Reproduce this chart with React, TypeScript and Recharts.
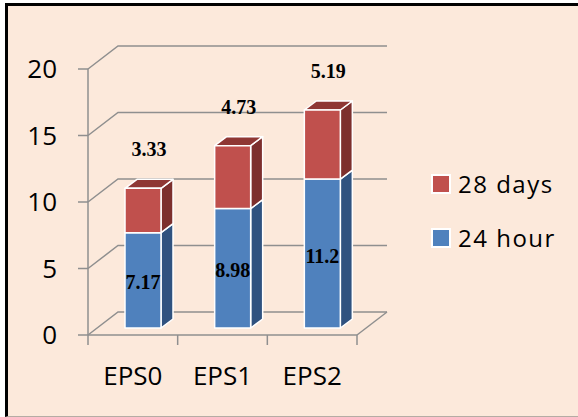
import React from "react"
import { BarChart, Bar, XAxis, YAxis, CartesianGrid, Legend, LabelList } from "recharts"

const categories = ["EPS0", "EPS1", "EPS2"]
const hour24 = [7.17, 8.98, 11.2]
const days28 = [3.33, 4.73, 5.19]
const yTicks = [0, 5, 10, 15, 20]

const data = categories.map((name, i) => ({ name, h24: hour24[i], d28: days28[i] }))

const GRID = "#8f8f8f"
const CREAM = "#fce9db"
const AXIS_FONT = "'Open Sans', 'Noto Sans', sans-serif"
const LABEL_FONT = "'Liberation Serif', 'DejaVu Serif', serif"

const X_TICK_SIZE = 10
const X_TICK_MARGIN = 22

// back wall / floor depth
const WALL_DX = 30
const WALL_DY = 23
// bars sit part way into the floor, with their own depth
const BAR_OX = 10
const BAR_OY = -7
const BAR_DX = 12
const BAR_DY = 9

const blue = { front: "#4f81bd", side: "#30527f", top: "#3b6296" }
const red = { front: "#c0504d", side: "#7d2f2d", top: "#8f3734" }

function wallLine(p: any) {
  const { x1, y1, x2, index } = p
  const bx = x1 + WALL_DX
  const by = y1 - WALL_DY
  return (
    <g key={`wall-${index}`}>
      <polyline
        points={`${x1},${y1} ${bx},${by} ${x2 + WALL_DX},${by}`}
        fill="none"
        stroke={GRID}
        strokeWidth={1.5}
      />
      {index === 0 && (
        <line x1={x2} y1={y1} x2={x2 + WALL_DX} y2={by} stroke={GRID} strokeWidth={1.5} />
      )}
    </g>
  )
}

// category label plus tick marks on the band edges (not the band centre)
function categoryTick(p: any) {
  const { x, y, payload, index, visibleTicksCount } = p
  const half = payload?.offset ?? 0
  const y0 = y - X_TICK_MARGIN - X_TICK_SIZE
  const y1 = y - X_TICK_MARGIN
  const last = index === visibleTicksCount - 1
  return (
    <g>
      <line x1={x - half} y1={y0} x2={x - half} y2={y1} stroke={GRID} strokeWidth={1.5} />
      {last && <line x1={x + half} y1={y0} x2={x + half} y2={y1} stroke={GRID} strokeWidth={1.5} />}
      <text x={x} y={y} dy="0.71em" textAnchor="middle" fill="#000" fontSize={26} fontFamily={AXIS_FONT}>
        {payload.value}
      </text>
    </g>
  )
}

function makeBox(c: { front: string; side: string; top: string }, withTop: boolean) {
  return (props: any) => {
    const { x, y, width, height } = props
    if (width == null || height == null) return <g />
    const x0 = x + BAR_OX
    const y0 = y + BAR_OY
    const w = width
    const h = height
    const side = `${x0 + w},${y0} ${x0 + w + BAR_DX},${y0 - BAR_DY} ${x0 + w + BAR_DX},${y0 + h - BAR_DY} ${x0 + w},${y0 + h}`
    const top = `${x0},${y0} ${x0 + BAR_DX},${y0 - BAR_DY} ${x0 + w + BAR_DX},${y0 - BAR_DY} ${x0 + w},${y0}`
    return (
      <g stroke="#ffffff" strokeWidth={1.5} strokeLinejoin="round">
        <polygon points={side} fill={c.side} />
        {withTop && <polygon points={top} fill={c.top} />}
        <rect x={x0} y={y0} width={w} height={h} fill={c.front} />
      </g>
    )
  }
}

function boxOf(props: any) {
  const vb = props.viewBox && props.viewBox.width != null ? props.viewBox : props
  return { x: Number(vb.x), y: Number(vb.y), width: Number(vb.width), height: Number(vb.height) }
}

function innerLabel(props: any) {
  const { x, y, width, height } = boxOf(props)
  return (
    <text
      x={x + width / 2 + BAR_OX}
      y={y + height / 2 + BAR_OY + 2}
      textAnchor="middle"
      dominantBaseline="central"
      fontFamily={LABEL_FONT}
      fontWeight="bold"
      fontSize={20}
      fill="#000"
    >
      {props.value}
    </text>
  )
}

function topLabel(props: any) {
  const { x, y, width } = boxOf(props)
  return (
    <text
      x={x + width / 2 + BAR_OX + BAR_DX / 2}
      y={y + BAR_OY - 39}
      textAnchor="middle"
      dominantBaseline="central"
      fontFamily={LABEL_FONT}
      fontWeight="bold"
      fontSize={20}
      fill="#000"
    >
      {props.value}
    </text>
  )
}

function renderLegend(props: any) {
  const items = [...(props.payload || [])].reverse()
  return (
    <div style={{ fontFamily: AXIS_FONT }}>
      {items.map((it: any) => (
        <div key={it.value} style={{ display: "flex", alignItems: "center", height: 20, marginBottom: 34 }}>
          <span
            style={{
              width: 16,
              height: 16,
              background: it.color,
              border: "2px solid #ffffff",
              marginRight: 7,
            }}
          />
          <span style={{ fontSize: 24, letterSpacing: 1.5, color: "#000", lineHeight: "20px" }}>{it.value}</span>
        </div>
      ))}
    </div>
  )
}

export default function App() {
  return (
    <div style={{ position: "absolute", left: 0, top: 0, width: 578, height: 417, background: "#ffffff" }}>
      <div
        style={{
          position: "absolute",
          left: 5,
          top: 3,
          width: 573,
          height: 414,
          boxSizing: "border-box",
          background: CREAM,
          borderTop: "3px solid #000",
          borderLeft: "3px solid #000",
          borderBottom: "1px solid #b5aca4",
        }}
      />
      <div style={{ position: "absolute", left: 0, top: 0 }}>
        <BarChart width={578} height={417} data={data} margin={{ top: 69, right: 221, bottom: 52, left: 28 }}>
          <CartesianGrid vertical={false} horizontal={wallLine} />
          <XAxis
            dataKey="name"
            height={30}
            axisLine={{ stroke: GRID, strokeWidth: 1.5 }}
            tickLine={false}
            tickSize={X_TICK_SIZE}
            tickMargin={X_TICK_MARGIN}
            tick={categoryTick}
          />
          <YAxis
            width={60}
            domain={[0, 20]}
            ticks={yTicks}
            axisLine={{ stroke: GRID, strokeWidth: 1.5 }}
            tickLine={{ stroke: GRID, strokeWidth: 1.5 }}
            tickSize={10}
            tickMargin={21}
            tick={{ fill: "#000", fontSize: 26, fontFamily: AXIS_FONT }}
          />
          <Legend
            layout="horizontal"
            verticalAlign="middle"
            align="center"
            wrapperStyle={{ left: 431, top: 174, width: 145 }}
            content={renderLegend}
          />
          <Bar
            dataKey="h24"
            name="24 hour"
            stackId="eps"
            barSize={36}
            fill={blue.front}
            shape={makeBox(blue, false)}
            isAnimationActive={false}
          >
            <LabelList dataKey="h24" content={innerLabel} />
          </Bar>
          <Bar
            dataKey="d28"
            name="28 days"
            stackId="eps"
            barSize={36}
            fill={red.front}
            shape={makeBox(red, true)}
            isAnimationActive={false}
          >
            <LabelList dataKey="d28" content={topLabel} />
          </Bar>
        </BarChart>
      </div>
    </div>
  )
}
